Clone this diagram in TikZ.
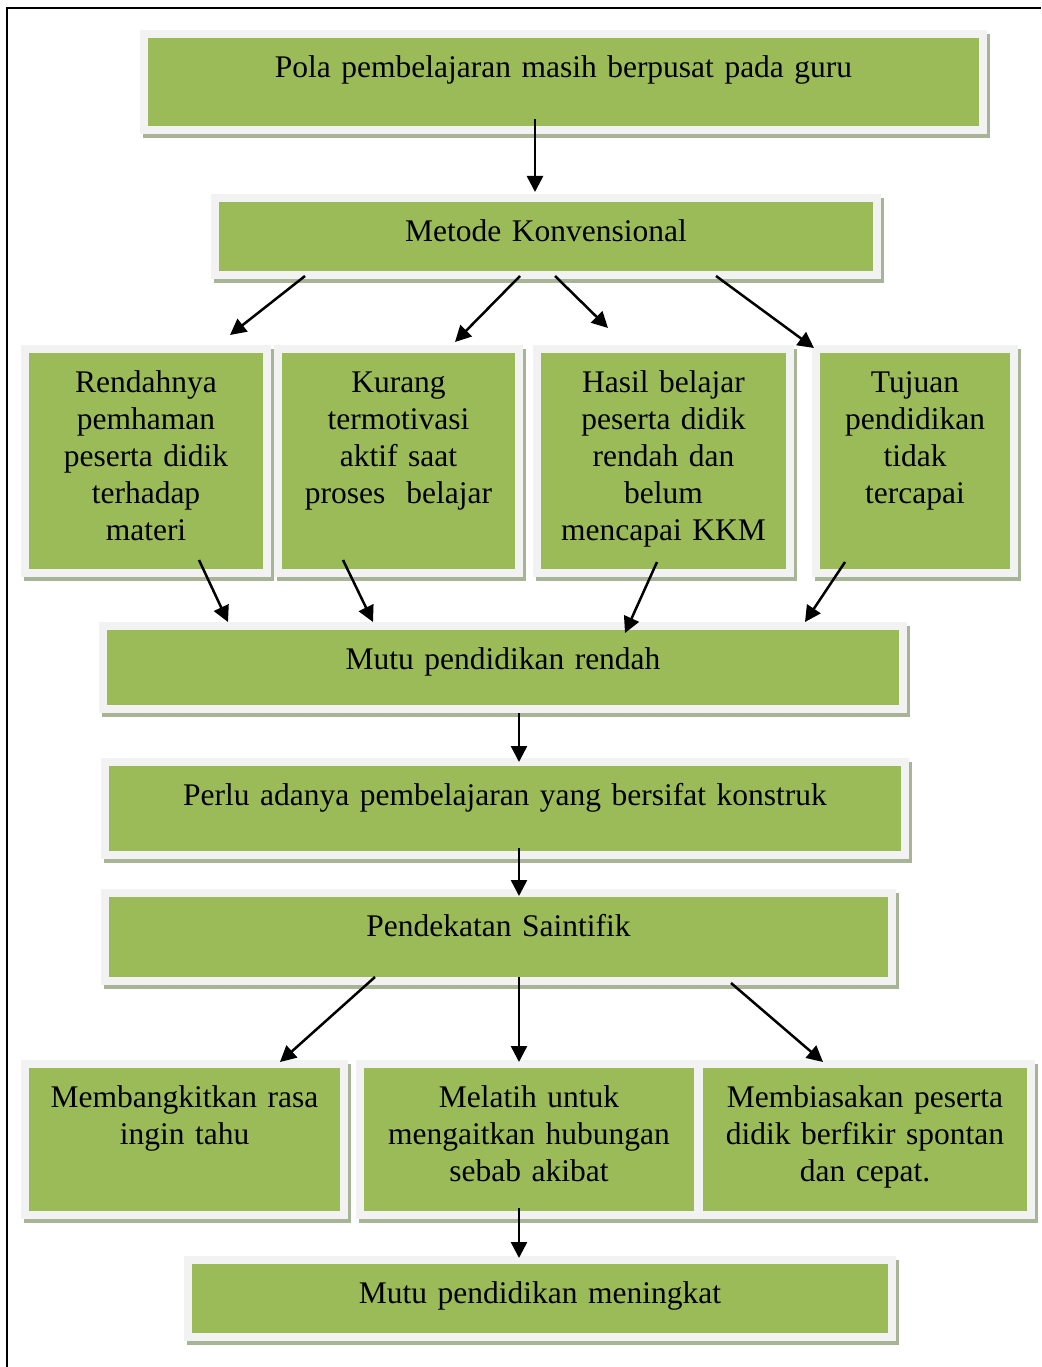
\documentclass[tikz,border=0pt]{standalone}
\usepackage{fontspec}
\setmainfont{Liberation Serif}
\usetikzlibrary{arrows.meta}

\definecolor{hijau}{RGB}{155,187,89}
\definecolor{abu}{RGB}{242,242,242}
\definecolor{bayang}{RGB}{168,180,150}

\tikzset{
  kotak/.style 2 args={draw=abu, fill=hijau, line width=8pt, outer sep=0pt,
    preaction={draw=bayang, line width=8pt, transform canvas={shift={(3pt,-4pt)}}},
    anchor=north west, align=center, inner xsep=9pt, inner ysep=20pt,
    text width=#1-10pt, minimum width=#1+8pt, text height=23.5pt, text depth=#2-55.5pt,
    font=\fontsize{31.5}{37}\selectfont},
  panah/.style={-{Triangle[length=16pt,width=16pt]}, line width=2.5pt}
}

\begin{document}
\begin{tikzpicture}[x=1pt,y=-1pt]
    \useasboundingbox (0,0) rectangle (1041,1367);
    \draw[line width=2.5pt] (1041,8) -- (7,8) -- (7,1367);

    % kotak-kotak
    \node[kotak={831pt}{88pt}] (pola) at (144,34) {Pola pembelajaran masih berpusat pada guru};
    \node[kotak={654pt}{69pt}] (metode) at (215,198) {Metode Konvensional};

    \node[kotak={234pt}{216pt}] (rendah) at (25,349) {Rendahnya\\ pemhaman\\ peserta didik\\ terhadap\\ materi};
    \node[kotak={233pt}{216pt}] (kurang) at (278,349) {Kurang\\ termotivasi\\ aktif saat\\ proses\ \ belajar};
    \node[kotak={245pt}{216pt}] (hasil) at (537,349) {Hasil belajar\\ peserta didik\\ rendah dan\\ belum\\ mencapai KKM};
    \node[kotak={190pt}{216pt}] (tujuan) at (816,349) {Tujuan\\ pendidikan\\ tidak\\ tercapai};

    \node[kotak={792pt}{75pt}] (mutu) at (103,626) {Mutu pendidikan rendah};
    \node[kotak={792pt}{85pt}] (perlu) at (105,762) {Perlu adanya pembelajaran yang bersifat konstruk};
    \node[kotak={779pt}{80pt}] (saintifik) at (105,893) {Pendekatan Saintifik};

    \node[kotak={311pt}{143pt}] (rasa) at (25,1064) {Membangkitkan rasa\\ ingin tahu};
    \node[kotak={330pt}{143pt}] (melatih) at (360,1064) {Melatih untuk\\ mengaitkan hubungan\\ sebab akibat};
    \node[kotak={324pt}{143pt}] (spontan) at (699,1064) {Membiasakan peserta\\ didik berfikir spontan\\ dan cepat.};

    \node[kotak={696pt}{69pt}] (meningkat) at (188,1260) {Mutu pendidikan meningkat};

    % panah
    \draw[panah] ([shift={(-28.5,-11)}]pola.south) -- ([shift={(-11,-6)}]metode.north);

    \draw[panah] ([shift={(-241,1)}]metode.south) -- ([shift={(84,-14)}]rendah.north);
    \draw[panah] ([shift={(-26,1)}]metode.south) -- ([shift={(56.5,-7)}]kurang.north);
    \draw[panah] ([shift={(9,1)}]metode.south) -- ([shift={(-55.5,-21)}]hasil.north);
    \draw[panah] ([shift={(170,1)}]metode.south) -- ([shift={(-101,-1)}]tujuan.north);

    \draw[panah] ([shift={(53,-13)}]rendah.south) -- ([shift={(-275,-4)}]mutu.north);
    \draw[panah] ([shift={(-55.5,-13)}]kurang.south) -- ([shift={(-130,-4)}]mutu.north);
    \draw[panah] ([shift={(-6.5,-11)}]hasil.south) -- ([shift={(122,7)}]mutu.north);
    \draw[panah] ([shift={(-70,-11)}]tujuan.south) -- ([shift={(302,-4)}]mutu.north);

    \draw[panah] ([shift={(16,4)}]mutu.south) -- ([shift={(14,0)}]perlu.north);
    \draw[panah] ([shift={(14,-7)}]perlu.south) -- ([shift={(20.5,3)}]saintifik.north);

    \draw[panah] ([shift={(-123.5,-4)}]saintifik.south) -- ([shift={(95.5,-2)}]rasa.north);
    \draw[panah] ([shift={(20.5,-4)}]saintifik.south) -- ([shift={(-10,-2)}]melatih.north);
    \draw[panah] ([shift={(232.5,2)}]saintifik.south) -- ([shift={(-42,-2)}]spontan.north);

    \draw[panah] ([shift={(-10,-7)}]melatih.south) -- ([shift={(-21,-2)}]meningkat.north);
\end{tikzpicture}
\end{document}
